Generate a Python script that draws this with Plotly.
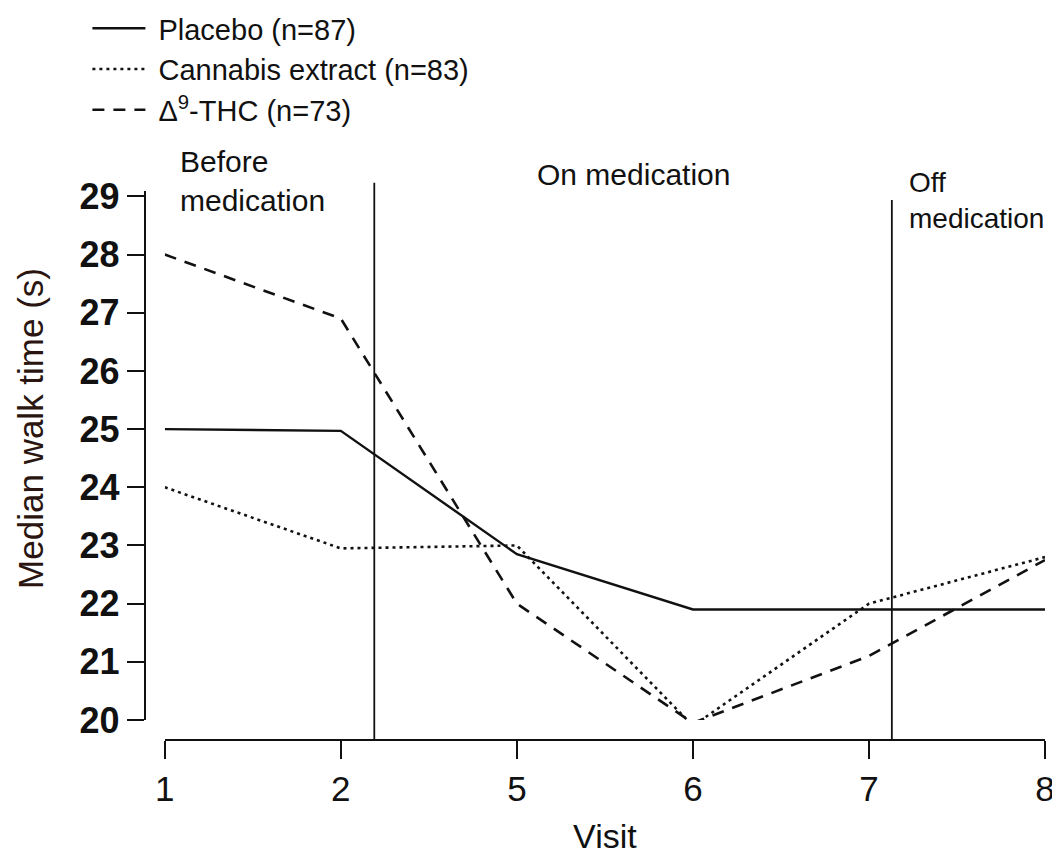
import plotly.graph_objects as go

visits = ["1", "2", "5", "6", "7", "8"]
placebo = [25.0, 24.97, 22.85, 21.9, 21.9, 21.9]
cannabis = [24.0, 22.95, 23.0, 19.9, 22.0, 22.8]
thc = [28.0, 26.9, 22.0, 19.95, 21.1, 22.75]
series_names = ["Placebo (n=87)", "Cannabis extract (n=83)", "Δ<sup>9</sup>-THC (n=73)"]
y_ticks = [20, 21, 22, 23, 24, 25, 26, 27, 28, 29]
phase_bounds = [1.19, 4.13]

FONT = "Liberation Sans, Arial, sans-serif"
INK = "#111111"
xpos = list(range(len(visits)))

fig = go.Figure()
styles = [dict(dash="solid", width=2.4), dict(dash="3px,4px", width=2.6), dict(dash="12px,9px", width=2.6)]
for name, vals, st in zip(series_names, [placebo, cannabis, thc], styles):
    fig.add_trace(go.Scatter(x=xpos, y=vals, mode="lines", name="\u00a0" + name,
                             line=dict(color=INK, **st)))

for xb, top in zip(phase_bounds, [1.004, 0.973]):
    fig.add_shape(type="line", xref="x", yref="paper", x0=xb, x1=xb, y0=0, y1=top,
                  line=dict(color=INK, width=1.8))

ann_font = dict(family=FONT, size=30, color=INK)
fig.add_annotation(text="Before<br>medication", xref="paper", yref="paper", x=0.037, y=1.076,
                   xanchor="left", yanchor="top", showarrow=False, align="left", font=ann_font)
fig.add_annotation(text="On medication", xref="paper", yref="paper", x=0.543, y=1.052,
                   xanchor="center", yanchor="top", showarrow=False, font=ann_font)
fig.add_annotation(text="Off<br>medication", xref="paper", yref="paper", x=0.847, y=1.036,
                   xanchor="left", yanchor="top", showarrow=False, align="left",
                   font=dict(family=FONT, size=28, color=INK))
fig.add_annotation(text="Median walk time (s)", xref="paper", yref="paper", x=-0.128, y=0.562,
                   xanchor="center", yanchor="middle", textangle=-90, showarrow=False,
                   font=dict(family=FONT, size=35, color="#2a1510"))

fig.update_layout(
    width=1052, height=847,
    margin=dict(l=137, r=15, t=177, b=115, autoexpand=False),
    paper_bgcolor="white", plot_bgcolor="white",
    font=dict(family=FONT, color=INK),
    showlegend=True,
    legend=dict(x=-0.064, y=1.328, xanchor="left", yanchor="top", bgcolor="rgba(0,0,0,0)",
                font=dict(family=FONT, size=29, color=INK), itemwidth=53,
                tracegroupgap=0),
    xaxis=dict(domain=[0.022, 1.0], range=[0, 5], anchor="free", position=0, automargin=False,
               tickvals=xpos, ticktext=visits, showgrid=False, zeroline=False,
               showline=True, linecolor=INK, linewidth=2.4, ticklabeloverflow="allow",
               ticks="outside", ticklen=18, tickwidth=2, tickcolor=INK,
               tickfont=dict(family=FONT, size=35, color=INK),
               title=dict(text="Visit", font=dict(family=FONT, size=34, color=INK), standoff=16)),
    yaxis=dict(domain=[0.036, 0.99], range=[20, 29.1], anchor="free", position=0, automargin=False,
               tickvals=y_ticks, showgrid=False, zeroline=False,
               showline=True, linecolor=INK, linewidth=2.4,
               ticks="outside", ticklen=17, tickwidth=2, tickcolor=INK,
               tickfont=dict(family=FONT, size=36, color=INK, weight="bold")),
)

fig.write_html("out.html")
